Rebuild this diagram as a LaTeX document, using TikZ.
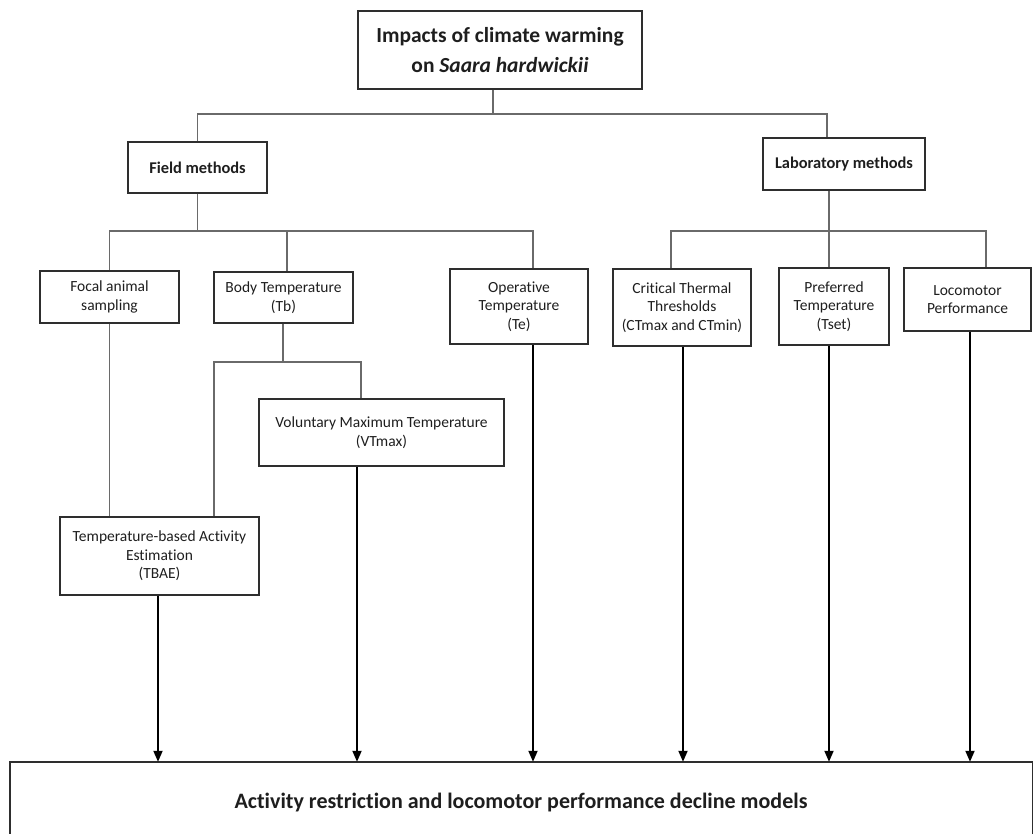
\documentclass[tikz,border=0pt]{standalone}
\usepackage{fontspec}
\setmainfont{Carlito}[Ligatures={NoCommon,NoContextual}]
\usetikzlibrary{arrows.meta}
\definecolor{boxc}{HTML}{2E2E2E}
\definecolor{treec}{HTML}{6A6A6A}
\definecolor{txt}{HTML}{1E1E1E}
\begin{document}
\begin{tikzpicture}[x=1pt,y=-1pt,
  box/.style={draw=boxc, line width=1.4pt, inner sep=0pt, align=center, text=txt,
    font=\fontsize{15.5}{18.6}\selectfont},
  hbox/.style={box, font=\fontsize{16.4}{19.5}\selectfont\bfseries},
  tree/.style={draw=treec, line width=1.1pt},
  arr/.style={draw=black, line width=1.8pt, -{Triangle[length=11pt,width=9pt]}}]
\useasboundingbox (0,0) rectangle (1033,834);

% nodes
\node[box, minimum width=284pt, minimum height=78pt,
  font=\fontsize{21.5}{30}\selectfont\bfseries] (title) at (500,50)
  {Impacts of climate warming\\on \textit{Saara hardwickii}};
\node[hbox, minimum width=139pt, minimum height=51pt] (field) at (197.5,167.5) {Field methods};
\node[hbox, minimum width=162pt, minimum height=52pt] (lab) at (844,164) {Laboratory methods};

\node[box, minimum width=139pt, minimum height=52pt] (focal) at (109.5,297) {Focal animal\\sampling};
\node[box, minimum width=139pt, minimum height=51pt] (body) at (283.5,297.5) {Body Temperature\\(Tb)};
\node[box, minimum width=138pt, minimum height=75pt] (oper) at (519,306.5) {Operative\\Temperature\\(Te)};
\node[box, minimum width=138pt, minimum height=77pt] (ctt) at (682,307.5) {Critical Thermal\\Thresholds\\(CTmax and CTmin)};
\node[box, minimum width=110pt, minimum height=77pt] (pref) at (834,306.5) {Preferred\\Temperature\\(Tset)};
\node[box, minimum width=127pt, minimum height=63pt] (loco) at (967.5,299.5) {Locomotor\\Performance};

\node[box, minimum width=245pt, minimum height=67pt] (vtmax) at (381.5,432.5) {Voluntary Maximum Temperature\\(VTmax)};
\node[box, minimum width=199pt, minimum height=78pt] (tbae) at (159.5,556) {Temperature-based Activity\\Estimation\\(TBAE)};

\node[draw=none, inner sep=0pt, minimum width=1022pt, minimum height=82pt, text=txt,
  font=\fontsize{22}{26}\selectfont\bfseries] (bottom) at (521,803)
  {Activity restriction and locomotor performance decline models};
\draw[draw=boxc, line width=1.4pt] (bottom.south west) |- (bottom.north east) -- (bottom.south east);

% junction coordinates
\coordinate (j0) at (493,114);
\coordinate (jL) at (827,114);
\coordinate (jF) at (198,231);
\coordinate (jB) at (287,231);
\coordinate (jO) at (533,231);
\coordinate (jLab) at (829,231);
\coordinate (jC) at (671,231);
\coordinate (jP) at (829,231);
\coordinate (jLo) at (986,231);
\coordinate (jT) at (283,362);
\coordinate (jTl) at (214,362);
\coordinate (jTr) at (361,362);

% tree lines
\draw[tree] (title.south -| j0) -- (j0);
\draw[tree] (field.north) |- (jL) -- (lab.north -| jL);
\draw[tree] (field.south) -- (field.south |- jF);
\draw[tree] (focal.north) |- (jO) -- (oper.north -| jO);
\draw[tree] (jB) -- (body.north -| jB);
\draw[tree] (lab.south -| jLab) -- (jLab);
\draw[tree] (ctt.north -| jC) |- (jLo) -- (loco.north -| jLo);
\draw[tree] (jP) -- (pref.north -| jP);
\draw[tree] (body.south -| jT) -- (jT);
\draw[tree] (tbae.north -| jTl) |- (jTr) -- (vtmax.north -| jTr);
\draw[tree] (focal.south) -- (tbae.north -| focal.south);

% arrows
\coordinate (a1) at (158,0);
\coordinate (a2) at (357,0);
\coordinate (a3) at (533,0);
\coordinate (a4) at (683,0);
\coordinate (a5) at (829,0);
\coordinate (a6) at (970,0);
\draw[arr] (tbae.south -| a1) -- (bottom.north -| a1);
\draw[arr] (vtmax.south -| a2) -- (bottom.north -| a2);
\draw[arr] (oper.south -| a3) -- (bottom.north -| a3);
\draw[arr] (ctt.south -| a4) -- (bottom.north -| a4);
\draw[arr] (pref.south -| a5) -- (bottom.north -| a5);
\draw[arr] (loco.south -| a6) -- (bottom.north -| a6);
\end{tikzpicture}
\end{document}
